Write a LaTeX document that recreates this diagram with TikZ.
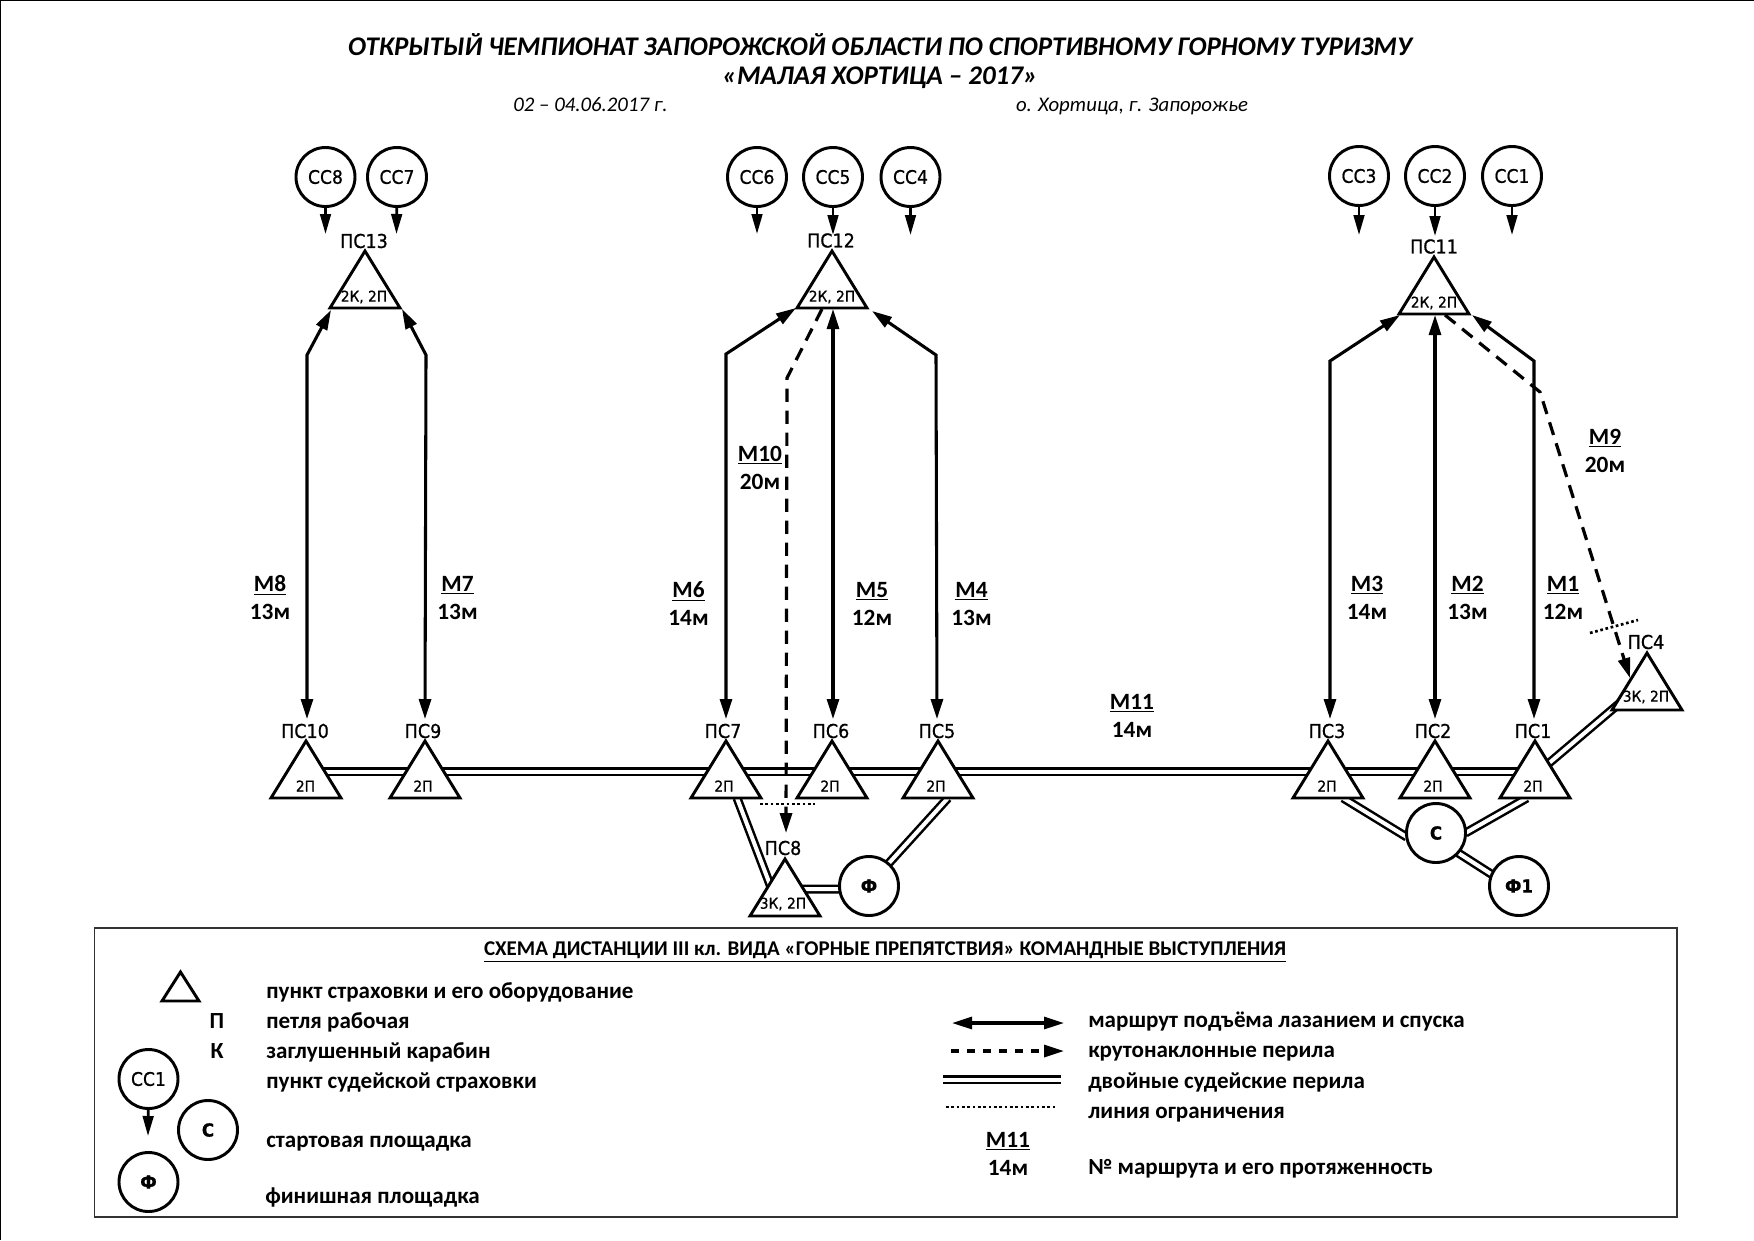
\documentclass[tikz,border=0pt]{standalone}
\usepackage{fontspec}
\setmainfont{Carlito}
\newfontfamily\dv[FakeStretch=0.92,FakeBold=0.8]{DejaVu Sans}
\newfontfamily\dvb[FakeStretch=0.92]{DejaVu Sans Bold}
\usetikzlibrary{arrows.meta,shapes.geometric,backgrounds}
\newcommand{\fs}[1]{\fontsize{#1}{#1}\selectfont}
\tikzset{
  x=0.75pt,y=-0.75pt,
  tri/.style={isosceles triangle,isosceles triangle stretches,shape border rotate=90,draw=black,fill=white,line width=2.2pt,inner sep=0pt,outer sep=0pt,minimum width=70*.75pt,minimum height=57*.75pt,anchor=apex},
  minitri/.style={tri,minimum width=37*.75pt,minimum height=29*.75pt},
  ring/.style={circle,draw=black,fill=white,line width=2.2pt,inner sep=0pt,outer sep=0pt,minimum size=59*.75pt,font=\dv\fs{14}},
  bigring/.style={ring,font=\dv\bfseries\fs{13.5}},
  pslabel/.style={font=\dv\fs{14.3},inner sep=0pt},
  eqlabel/.style={font=\dv\fs{11.2},inner sep=0pt},
  rlabel/.style={font=\bfseries\fs{17.5},inner sep=0pt,align=center},
  legtext/.style={font=\bfseries\fs{17.3},inner sep=0pt,anchor=west},
  route/.style={line width=2.3pt,{Triangle[length=15pt,width=9pt]}-{Triangle[length=15pt,width=9pt]}},
  judge/.style={line width=2pt,-{Triangle[length=15pt,width=8pt]}},
  steep/.style={line width=2.4pt,dash pattern=on 10pt off 6.5pt,-{Triangle[length=15pt,width=9pt]}},
  rails/.style={draw=black,double=white,line width=1.9pt,double distance=3pt},
  limit/.style={line width=2pt,dash pattern=on 2pt off 2pt},
}
\begin{document}
\begin{tikzpicture}
\useasboundingbox (0,0) rectangle (1754,1240);
\begin{scope}[on background layer]
\fill[white] (0,0) rectangle (1754,1240);
\draw[line width=1.5pt,black] (0,1240) -- (0,0) -- (1754,0);
\end{scope}
% title
\node[font=\bfseries\itshape\fs{20.2},inner sep=0pt] (t1) at (880,45) {ОТКРЫТЫЙ ЧЕМПИОНАТ ЗАПОРОЖСКОЙ ОБЛАСТИ ПО СПОРТИВНОМУ ГОРНОМУ ТУРИЗМУ};
\node[font=\bfseries\itshape\fs{20.2},inner sep=0pt] (t2) at (880,78) {«МАЛАЯ ХОРТИЦА – 2017»};
\node[font=\itshape\fs{15.6},inner sep=0pt,anchor=base] (t3) at (590.5,111) {02 – 04.06.2017 г.};
\node[font=\itshape\fs{15.6},inner sep=0pt,anchor=base] (t4) at (1132,111) {о. Хортица, г. Запорожье};
% anchors
\foreach \n/\x/\y in {bM8/307/355,bM7/426/355,bM6/726/354,bM4/936/355,bM3/1330/361,bM1/1534/361,bM10/787/378,bM9/1540/392,
  tM8/331/310,tM7/402/309,tM6/796/308,tM5/833/309,tM4/872/311,tM3/1400/315,tM2/1435/315,tM1/1472/315,
  eM8/307/719,eM7/425/719,eM6/726/719,eM5/833/719,eM4/937/719,eM3/1330/719,eM2/1435/719,eM1/1534/719,
  dA/822/309,dB/786/833,eA/1445/315,eB/1630/678,
  lA1/760/804,lA2/815/804,lB1/1590/633,lB2/1638/620,
  c8/325.5/234,c7/396.5/234,c6/757/234,c5/833/235,c4/910.5/235,c3/1359/235,c2/1435/236,c1/1512/235}
  \coordinate (\n) at (\x,\y);
% rings
\node[ring] (CC8) at (325.5,177) {СС8};
\node[ring] (CC7) at (397,177) {СС7};
\node[ring] (CC6) at (757,177) {СС6};
\node[ring] (CC5) at (833,177) {СС5};
\node[ring] (CC4) at (910.5,177) {СС4};
\node[ring] (CC3) at (1359,176) {СС3};
\node[ring] (CC2) at (1435,176) {СС2};
\node[ring] (CC1) at (1512,176) {СС1};
\node[bigring] (F) at (869,886) {Ф};
\node[bigring] (S) at (1436,833) {С};
\node[bigring] (F1) at (1519,886) {Ф1};
% judge arrows
\draw[judge] (CC8) -- (c8);
\draw[judge] (CC7) -- (c7);
\draw[judge] (CC6) -- (c6);
\draw[judge] (CC5) -- (c5);
\draw[judge] (CC4) -- (c4);
\draw[judge] (CC3) -- (c3);
\draw[judge] (CC2) -- (c2);
\draw[judge] (CC1) -- (c1);
% triangles
\node[tri] (PS13) at (365,251) {};
\node[tri] (PS12) at (832,251) {};
\node[tri] (PS11) at (1434,257) {};
\node[tri] (PS10) at (306,741) {};
\node[tri] (PS9) at (425,741) {};
\node[tri] (PS7) at (726,741) {};
\node[tri] (PS6) at (832,741) {};
\node[tri] (PS5) at (938,741) {};
\node[tri] (PS3) at (1328,741) {};
\node[tri] (PS2) at (1435,741) {};
\node[tri] (PS1) at (1535,741) {};
\node[tri] (PS4) at (1647,653) {};
\node[tri] (PS8) at (785,859) {};
% double rails, behind the nodes
\begin{scope}[on background layer]
\draw[rails] ([shift={(0,30.5)}]PS10.apex) -- ([shift={(0,30.5)}]PS1.apex);
\draw[rails] ([shift={(0,34)}]PS1.apex) -- ([shift={(0,27)}]PS4.apex);
\draw[rails] ([shift={(15,57)}]PS3.apex) -- (S.188);
\draw[rails] ([shift={(-8,57)}]PS1.apex) -- (S.0);
\draw[rails] (S.-42) -- (F1.157);
\draw[rails] ([shift={(11,57)}]PS7.apex) -- ([shift={(-13,31)}]PS8.apex);
\draw[rails] ([shift={(10,57)}]PS5.apex) -- (F.49);
\draw[rails] ([shift={(0,30)}]PS8.apex) -- (F.186);
\end{scope}
% triangle labels
\node[pslabel] (lp13) at (364,241) {ПС13};
\node[pslabel] (lp12) at (831,240.5) {ПС12};
\node[pslabel] (lp11) at (1434,246.5) {ПС11};
\node[pslabel] (lp10) at (305,731) {ПС10};
\node[pslabel] (lp9) at (423,731) {ПС9};
\node[pslabel] (lp7) at (723,731) {ПС7};
\node[pslabel] (lp6) at (831,731) {ПС6};
\node[pslabel] (lp5) at (937,731) {ПС5};
\node[pslabel] (lp3) at (1327,731) {ПС3};
\node[pslabel] (lp2) at (1433,731) {ПС2};
\node[pslabel] (lp1) at (1533,731) {ПС1};
\node[pslabel] (lp4) at (1646,642) {ПС4};
\node[pslabel] (lp8) at (783,848) {ПС8};
\node[eqlabel] (e13) at (364,297) {2К, 2П};
\node[eqlabel] (e12) at (832,297) {2К, 2П};
\node[eqlabel] (e11) at (1434,303) {2К, 2П};
\node[eqlabel] (e10) at (305.5,786) {2П};
\node[eqlabel] (e9) at (423,786) {2П};
\node[eqlabel] (e7) at (724,786) {2П};
\node[eqlabel] (e6) at (830,786) {2П};
\node[eqlabel] (e5) at (936,786) {2П};
\node[eqlabel] (e3) at (1327,786) {2П};
\node[eqlabel] (e2) at (1433,786) {2П};
\node[eqlabel] (e1) at (1533,786) {2П};
\node[eqlabel] (e4) at (1646,697) {3К, 2П};
\node[eqlabel] (e8) at (783,904) {3К, 2П};
% routes
\draw[route] (tM8) -- (bM8) -- (eM8);
\draw[route] (tM7) -- (bM7) -- (eM7);
\draw[route] (tM6) -- (bM6) -- (eM6);
\draw[route] (tM5) -- (eM5);
\draw[route] (tM4) -- (bM4) -- (eM4);
\draw[route] (tM3) -- (bM3) -- (eM3);
\draw[route] (tM2) -- (eM2);
\draw[route] (tM1) -- (bM1) -- (eM1);
\draw[steep] (dA) -- (bM10) -- (dB);
\draw[steep] (eA) -- (bM9) -- (eB);
\draw[limit] (lA1) -- (lA2);
\draw[limit] (lB1) -- (lB2);
% route labels
\foreach \n/\a/\b/\x/\y in {m8/М8/13м/270/584,m7/М7/13м/457.5/584,m6/М6/14м/688.5/590,m5/М5/12м/872/590,m4/М4/13м/971.5/590,m10/М10/20м/760/454,m9/М9/20м/1605/437,m3/М3/14м/1367/584,m2/М2/13м/1467.5/584,m1/М1/12м/1563/584,m11/М11/14м/1132/702}
  \node[rlabel] (\n) at (\x,\y+14) {\underline{\a}\\[3.5pt]\b};
% legend
\draw[line width=1.4pt,black!80] (94.5,928) rectangle (1677,1217);
\node[font=\bfseries\fs{15.75},inner sep=0pt] (lt) at (885,952) {\underline{СХЕМА ДИСТАНЦИИ III кл. ВИДА  «ГОРНЫЕ ПРЕПЯТСТВИЯ» КОМАНДНЫЕ ВЫСТУПЛЕНИЯ}};
\node[minitri] (ltri) at (180.5,972) {};
\node[legtext,anchor=center] (lp) at (217,1021) {П};
\node[legtext,anchor=center] (lk) at (217,1051) {К};
\node[legtext] (x1) at (266,992) {пункт страховки и его оборудование};
\node[legtext] (x2) at (266,1022) {петля рабочая};
\node[legtext] (x3) at (266,1052) {заглушенный карабин};
\node[legtext] (x4) at (266,1082) {пункт судейской страховки};
\node[legtext] (x5) at (266,1144) {стартовая площадка};
\node[legtext] (x6) at (265,1197) {финишная площадка};
\node[ring] (lc) at (148.5,1079) {СС1};
\coordinate (lcEnd) at (148,1136);
\draw[judge] (lc) -- (lcEnd);
\node[bigring] (ls) at (208,1130) {С};
\node[bigring] (lf) at (148.5,1182) {Ф};
\foreach \n/\x/\y in {ra/952/1023,rb/1064/1023,da/951/1051,db/1064/1051,ca/943/1079.5,cb/1061/1079.5,oa/946/1107,ob/1056/1107}
  \coordinate (\n) at (\x,\y);
\draw[route] (ra) -- (rb);
\draw[line width=2.4pt,dash pattern=on 6pt off 6pt,-{Triangle[length=15pt,width=9pt]}] (da) -- (db);
\draw[rails] (ca) -- (cb);
\draw[limit] (oa) -- (ob);
\node[rlabel] (lm) at (1008,1154) {\underline{М11}\\[3.5pt]14м};
\node[legtext] (y1) at (1088,1022) {маршрут подъёма лазанием и спуска};
\node[legtext] (y2) at (1088,1054) {крутонаклонные перила};
\node[legtext] (y3) at (1088,1082) {двойные судейские перила};
\node[legtext] (y4) at (1088,1115) {линия ограничения};
\node[legtext] (y5) at (1088,1169) {№ маршрута и его протяженность};
\end{tikzpicture}
\end{document}
